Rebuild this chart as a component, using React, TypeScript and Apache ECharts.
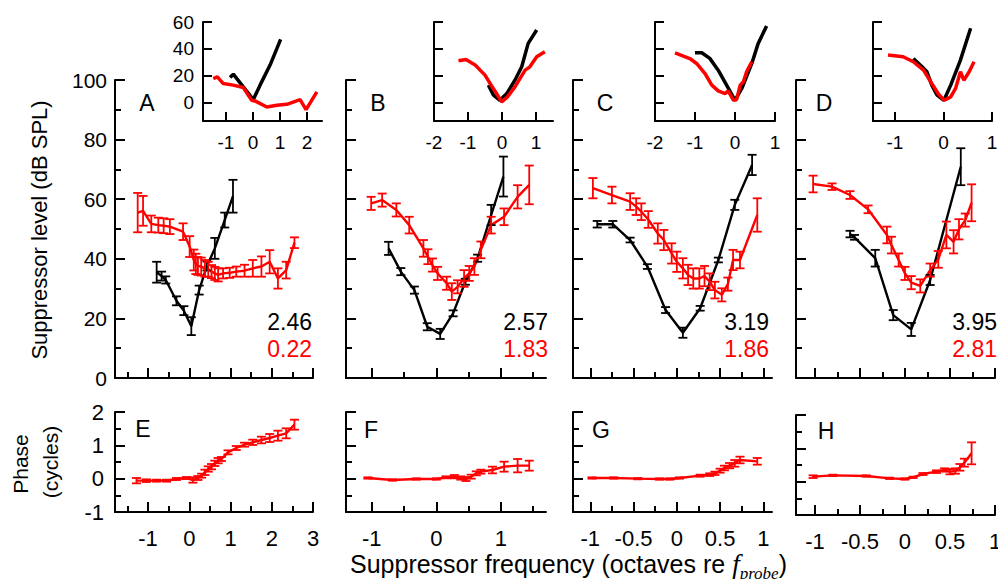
import React, { useEffect, useRef } from 'react';
import * as echarts from 'echarts';

const RED = '#ff0000';
const BLACK = '#000000';
const FONT = '"Liberation Sans", Arial, sans-serif';
const SERIF = '"Liberation Serif", "DejaVu Serif", serif';

// ---- Main panels: [octaves, level dB SPL, error] ----
const A_BLACK = [
  [-0.79, 35.5, 3.5], [-0.67, 34.2, 1.5], [-0.57, 32.9, 1.2], [-0.31, 25.9, 1.5],
  [-0.13, 22.6, 1.5], [0.05, 17.4, 3.0], [0.24, 29.5, 1.5], [0.43, 37.6, 1.5],
  [0.62, 43.5, 3.5], [0.86, 53.0, 2.5], [1.06, 61.0, 5.5],
];
const A_RED = [
  [-1.25, 55.5, 6.6], [-1.12, 56.1, 5.0], [-0.92, 51.7, 2.8], [-0.75, 51.3, 2.5],
  [-0.62, 51.1, 2.5], [-0.47, 50.8, 2.5], [-0.15, 49.1, 2.8], [0.01, 44.1, 3.5],
  [0.11, 39.6, 3.5], [0.16, 38.3, 3.4], [0.21, 37.6, 3.0], [0.29, 37.4, 3.0],
  [0.38, 36.8, 2.8], [0.46, 36.5, 2.5], [0.54, 35.7, 2.2], [0.62, 35.1, 2.2],
  [0.70, 34.6, 2.2], [0.82, 35.1, 1.7], [0.98, 35.3, 1.7], [1.14, 35.7, 1.7],
  [1.34, 36.0, 2.0], [1.54, 36.8, 2.8], [1.75, 37.4, 3.4], [1.95, 39.0, 3.9],
  [2.15, 33.4, 3.4], [2.35, 36.2, 2.8], [2.55, 45.4, 1.8],
];
const B_BLACK = [
  [-0.74, 43.5, 2.2], [-0.55, 35.7, 1.2], [-0.34, 29.5, 1.2], [-0.14, 17.2, 1.2],
  [0.06, 14.8, 1.7], [0.26, 21.7, 1.0], [0.45, 32.3, 1.0], [0.64, 40.2, 1.2],
  [0.85, 54.7, 3.4], [1.04, 67.6, 6.7],
];
const B_RED = [
  [-1.01, 58.6, 2.2], [-0.84, 59.7, 2.2], [-0.62, 56.4, 2.2], [-0.42, 51.3, 2.8],
  [-0.20, 43.5, 2.8], [-0.13, 40.7, 2.5], [-0.06, 37.9, 2.2], [0.02, 35.1, 2.2],
  [0.16, 31.8, 2.2], [0.24, 29.0, 2.8], [0.33, 30.6, 2.2], [0.43, 33.4, 2.8],
  [0.51, 35.1, 2.5], [0.59, 37.4, 2.8], [0.69, 43.0, 2.8], [0.85, 51.3, 2.8],
  [1.05, 54.1, 2.8], [1.26, 60.8, 3.9], [1.44, 64.8, 6.5],
];
const C_BLACK = [
  [-0.92, 51.6, 1.1], [-0.74, 51.6, 1.1], [-0.54, 46.3, 0.8], [-0.34, 37.4, 0.8],
  [-0.13, 22.8, 1.0], [0.07, 15.2, 1.7], [0.27, 23.4, 0.8], [0.48, 39.6, 0.8],
  [0.67, 58.1, 1.7], [0.87, 71.5, 3.4],
];
const C_RED = [
  [-0.97, 63.7, 3.4], [-0.75, 61.4, 2.8], [-0.54, 59.2, 2.8], [-0.47, 57.5, 2.8],
  [-0.41, 55.8, 2.8], [-0.33, 53.2, 2.8], [-0.22, 48.5, 3.4], [-0.15, 46.3, 3.4],
  [-0.06, 41.8, 3.4], [0.0, 39.0, 3.4], [0.07, 36.8, 3.4], [0.13, 34.6, 3.4],
  [0.19, 33.4, 3.4], [0.26, 33.4, 3.4], [0.32, 34.2, 3.4], [0.38, 32.3, 2.8],
  [0.44, 29.5, 2.8], [0.52, 27.9, 2.2], [0.59, 31.5, 2.2], [0.65, 39.6, 3.4],
  [0.73, 39.6, 2.8], [0.93, 54.7, 5.6],
];
const D_BLACK = [
  [-0.61, 48.3, 1.1], [-0.56, 47.2, 0.8], [-0.33, 40.2, 2.8], [-0.13, 21.1, 1.7],
  [0.07, 16.3, 2.2], [0.28, 32.9, 1.7], [0.62, 70.9, 6.2],
];
const D_RED = [
  [-1.02, 65.1, 2.8], [-0.81, 64.2, 1.1], [-0.61, 61.4, 1.3], [-0.41, 56.6, 1.3],
  [-0.20, 48.0, 2.8], [-0.15, 44.6, 2.8], [-0.07, 39.6, 2.2], [0.0, 35.1, 2.2],
  [0.07, 32.0, 2.2], [0.17, 30.9, 2.2], [0.28, 36.2, 2.2], [0.37, 39.8, 2.8],
  [0.46, 48.0, 4.5], [0.54, 45.7, 3.9], [0.60, 49.9, 3.4], [0.67, 53.0, 2.2],
  [0.74, 58.8, 6.2],
];

// ---- Insets: [octaves, level] ----
const IA_BLACK = [[-0.85, 18.5], [-0.73, 21], [-0.36, 11.5], [0.01, 2.0], [0.26, 12.8], [0.63, 27.8], [1.02, 47]];
const IA_RED = [[-1.47, 17.7], [-1.32, 19.0], [-1.10, 14.0], [-0.73, 12.8], [-0.36, 11.0], [-0.05, 1.5], [0.07, 1.0],
  [0.51, -3.5], [0.88, -2.3], [1.25, -1.5], [1.74, 2.0], [1.96, -5.5], [2.36, 7.8]];
const IB_BLACK = [[-0.40, 12.8], [-0.25, 5.3], [-0.06, 1.5], [0.14, 6.5], [0.38, 16.5], [0.58, 26.5], [0.77, 44], [1.02, 54]];
const IB_RED = [[-1.28, 31], [-1.06, 32], [-0.79, 27.8], [-0.50, 20.3], [-0.30, 12], [-0.16, 6.5], [-0.01, 0.3],
  [0.16, 4], [0.38, 11.5], [0.68, 24], [0.82, 26.5], [1.02, 34], [1.26, 37.8]];
const IC_BLACK = [[-1.0, 37], [-0.83, 37], [-0.63, 32.8], [-0.42, 24], [-0.21, 12.8], [0.0, 1.5], [0.17, 10.3],
  [0.42, 29], [0.58, 44], [0.79, 57]];
const IC_RED = [[-1.5, 37], [-1.13, 32.7], [-0.96, 29], [-0.75, 21.5], [-0.58, 12.8], [-0.42, 8.5], [-0.25, 6.5],
  [-0.17, 8.5], [-0.04, 1.5], [0.04, 2], [0.13, 12.8], [0.21, 15.3], [0.29, 22.8], [0.42, 30.3]];
const ID_BLACK = [[-0.62, 32.8], [-0.44, 26.5], [-0.34, 22.8], [-0.24, 12.8], [-0.13, 5.3], [0.01, 1.5], [0.15, 12.8],
  [0.35, 31.5], [0.56, 55.3]];
const ID_RED = [[-1.14, 35.3], [-0.83, 34], [-0.62, 30.3], [-0.41, 24], [-0.24, 14], [-0.10, 6], [0.02, 1.5],
  [0.15, 4], [0.25, 10.3], [0.35, 22.8], [0.42, 16.5], [0.53, 22.8], [0.63, 30.3]];

// ---- Phase panels: [octaves, cycles, error] ----
const E_RED = [
  [-1.28, -0.06, 0.08], [-1.04, -0.06, 0.04], [-0.79, -0.06, 0.03], [-0.55, -0.06, 0.03],
  [-0.31, -0.01, 0.03], [-0.07, 0.02, 0.03], [0.09, -0.04, 0.08], [0.21, 0.02, 0.06],
  [0.30, 0.09, 0.06], [0.38, 0.19, 0.08], [0.46, 0.29, 0.08], [0.54, 0.36, 0.08],
  [0.62, 0.46, 0.08], [0.70, 0.54, 0.08], [0.78, 0.59, 0.06], [0.94, 0.79, 0.06],
  [1.14, 0.92, 0.06], [1.34, 1.02, 0.06], [1.54, 1.09, 0.08], [1.75, 1.16, 0.1],
  [1.95, 1.22, 0.12], [2.15, 1.29, 0.15], [2.35, 1.36, 0.15], [2.55, 1.62, 0.15],
];
const F_RED = [
  [-1.06, 0.02, 0.02], [-0.68, -0.04, 0.02], [-0.31, -0.01, 0.02], [0.0, -0.01, 0.02],
  [0.15, 0.04, 0.03], [0.28, 0.06, 0.05], [0.38, 0.02, 0.05], [0.46, -0.01, 0.06],
  [0.54, 0.06, 0.06], [0.62, 0.16, 0.06], [0.69, 0.21, 0.06], [0.87, 0.26, 0.1],
  [1.05, 0.36, 0.15], [1.26, 0.39, 0.2], [1.44, 0.39, 0.15],
];
const G_RED = [
  [-0.98, 0.02, 0.02], [-0.73, 0.02, 0.02], [-0.45, 0.0, 0.02], [-0.2, -0.01, 0.02],
  [-0.08, -0.01, 0.02], [0.03, 0.02, 0.02], [0.27, 0.09, 0.03], [0.38, 0.12, 0.04],
  [0.44, 0.16, 0.05], [0.50, 0.24, 0.06], [0.55, 0.32, 0.07], [0.61, 0.39, 0.08],
  [0.67, 0.46, 0.1], [0.73, 0.56, 0.1], [0.93, 0.52, 0.1],
];
const H_RED = [
  [-1.02, 0.15, 0.04], [-0.80, 0.19, 0.02], [-0.43, 0.17, 0.02], [-0.17, 0.10, 0.02],
  [0.0, 0.08, 0.02], [0.09, 0.13, 0.02], [0.20, 0.23, 0.03], [0.35, 0.30, 0.04],
  [0.44, 0.35, 0.05], [0.50, 0.30, 0.08], [0.56, 0.32, 0.08], [0.61, 0.43, 0.1],
  [0.66, 0.57, 0.12], [0.74, 0.85, 0.33],
];

// ---- Tick values ----
const X_A_MAJOR = [-1, 0, 1, 2, 3];
const X_A_MINOR = [-1.5, -0.5, 0.5, 1.5, 2.5];
const X_B_MAJOR = [-1, 0, 1];
const X_B_MINOR = [-0.5, 0.5, 1.5];
const X_CD_MAJOR = [-1, -0.5, 0, 0.5, 1];
const X_CD_MINOR = [-0.75, -0.25, 0.25, 0.75];
const Y_MAIN_MAJOR = [0, 20, 40, 60, 80, 100];
const Y_MAIN_MINOR = [10, 30, 50, 70, 90];
const Y_PHASE_MAJOR = [-1, 0, 1, 2];
const Y_PHASE_MINOR = [-0.5, 0.5, 1.5];
const Y_INSET = [0, 20, 40, 60];
const XI_A = [-1, 0, 1, 2];
const XI_B_LABELS = [-2, -1, 0, 1];
const XI_TICKS = [-1, 0, 1];
const XI_D_LABELS = [-1, 0, 1];

const LETTERS = ['A', 'B', 'C', 'D', 'E', 'F', 'G', 'H'];
const SLOPES_BLACK = ['2.46', '2.57', '3.19', '3.95'];
const SLOPES_RED = ['0.22', '1.83', '1.86', '2.81'];

type Panel = {
  l: number; t: number; w: number; h: number;
  x: [number, number]; y: [number, number];
  xMajor: number[]; xMinor: number[]; xLabels: number[] | null;
  yMajor: number[]; yMinor: number[]; yLabels: number[] | null;
  major: number; minor: number; labelSize: number; xMargin: number; yMargin: number;
  kind: 'main' | 'inset' | 'phase';
  black?: number[][]; red?: number[][];
};

const mainBase = { t: 80, h: 298, y: [0, 100] as [number, number], yMajor: Y_MAIN_MAJOR, yMinor: Y_MAIN_MINOR,
  major: 10, minor: 6, labelSize: 21, xMargin: 10, yMargin: 8, kind: 'main' as const, xLabels: null };
const insetBase = { t: 22, h: 99, y: [-14, 60] as [number, number], yMajor: Y_INSET, yMinor: [],
  major: 9, minor: 0, labelSize: 19, xMargin: 12, yMargin: 9, kind: 'inset' as const, xMinor: [] };
const phaseBase = { t: 412, h: 100, y: [-1, 2] as [number, number], yMajor: Y_PHASE_MAJOR, yMinor: Y_PHASE_MINOR,
  major: 10, minor: 6, labelSize: 22, xMargin: 15, yMargin: 11, kind: 'phase' as const };

const PANELS: Panel[] = [
  { ...mainBase, l: 115, w: 198, x: [-1.8, 3], xMajor: X_A_MAJOR, xMinor: X_A_MINOR, yLabels: Y_MAIN_MAJOR, black: A_BLACK, red: A_RED },
  { ...mainBase, l: 346, w: 200, x: [-1.4, 1.7], xMajor: X_B_MAJOR, xMinor: X_B_MINOR, yLabels: null, black: B_BLACK, red: B_RED },
  { ...mainBase, l: 573, w: 199, x: [-1.2, 1.1], xMajor: X_CD_MAJOR, xMinor: X_CD_MINOR, yLabels: null, black: C_BLACK, red: C_RED },
  { ...mainBase, l: 796, w: 199, x: [-1.21, 1.0], xMajor: X_CD_MAJOR, xMinor: X_CD_MINOR, yLabels: null, black: D_BLACK, red: D_RED },
  { ...insetBase, l: 203, w: 119, x: [-1.85, 2.55], xMajor: XI_A, xLabels: XI_A, yLabels: Y_INSET, black: IA_BLACK, red: IA_RED },
  { ...insetBase, l: 434, w: 119, x: [-2, 1.5], xMajor: XI_TICKS, xLabels: XI_B_LABELS, yLabels: null, black: IB_BLACK, red: IB_RED },
  { ...insetBase, l: 655, w: 120, x: [-2, 1], xMajor: XI_TICKS, xLabels: XI_B_LABELS, yLabels: null, black: IC_BLACK, red: IC_RED },
  { ...insetBase, l: 873, w: 119, x: [-1.45, 1], xMajor: XI_TICKS, xLabels: XI_D_LABELS, yLabels: null, black: ID_BLACK, red: ID_RED },
  { ...phaseBase, l: 115, w: 198, x: [-1.8, 3], xMajor: X_A_MAJOR, xMinor: X_A_MINOR, xLabels: X_A_MAJOR, yLabels: Y_PHASE_MAJOR, red: E_RED },
  { ...phaseBase, l: 346, w: 200, x: [-1.4, 1.7], xMajor: X_B_MAJOR, xMinor: X_B_MINOR, xLabels: X_B_MAJOR, yLabels: null, red: F_RED },
  { ...phaseBase, l: 573, w: 199, x: [-1.2, 1.1], xMajor: X_CD_MAJOR, xMinor: X_CD_MINOR, xLabels: X_CD_MAJOR, yLabels: null, red: G_RED },
  { ...phaseBase, t: 415, l: 796, w: 199, x: [-1.21, 1.0], xMajor: X_CD_MAJOR, xMinor: X_CD_MINOR, xLabels: X_CD_MAJOR, yLabels: null, red: H_RED },
];

function makeAxes(p: Panel, gi: number, dim: 'x' | 'y') {
  const [min, max] = dim === 'x' ? p.x : p.y;
  const major = dim === 'x' ? p.xMajor : p.yMajor;
  const minor = dim === 'x' ? p.xMinor : p.yMinor;
  const labels = dim === 'x' ? p.xLabels : p.yLabels;
  const position = dim === 'x' ? 'bottom' : 'left';
  const lineStyle = { color: BLACK, width: 2 };
  const main = {
    type: 'value', gridIndex: gi, min, max, position,
    axisLine: { show: true, onZero: false, lineStyle },
    axisTick: { show: true, inside: true, length: p.major, lineStyle, customValues: major },
    axisLabel: labels
      ? { show: true, customValues: labels, margin: dim === 'x' ? p.xMargin : p.yMargin, color: BLACK,
          fontSize: p.labelSize, fontFamily: FONT, formatter: (v: number) => String(v) }
      : { show: false },
    splitLine: { show: false },
  };
  const sub = {
    type: 'value', gridIndex: gi, min, max, position,
    axisLine: { show: false, onZero: false },
    axisTick: { show: minor.length > 0, inside: true, length: p.minor, lineStyle, customValues: minor.length ? minor : [min] },
    axisLabel: { show: false },
    splitLine: { show: false },
  };
  return [main, sub];
}

function errorSeries(data: number[][], color: string, gi: number, cap: number) {
  return {
    type: 'custom',
    xAxisIndex: gi * 2,
    yAxisIndex: gi * 2,
    silent: true,
    z: 3,
    data: data.map((d) => [d[0], d[1] - d[2], d[1] + d[2]]),
    encode: { x: 0, y: [1, 2] },
    renderItem: (_params: any, api: any) => {
      const x = api.value(0);
      const lo = api.coord([x, api.value(1)]);
      const hi = api.coord([x, api.value(2)]);
      const style = { stroke: color, lineWidth: 1.8, fill: 'none' };
      return {
        type: 'group',
        children: [
          { type: 'line', shape: { x1: lo[0], y1: lo[1], x2: hi[0], y2: hi[1] }, style },
          { type: 'line', shape: { x1: lo[0] - cap, y1: lo[1], x2: lo[0] + cap, y2: lo[1] }, style },
          { type: 'line', shape: { x1: hi[0] - cap, y1: hi[1], x2: hi[0] + cap, y2: hi[1] }, style },
        ],
      };
    },
  };
}

function lineSeries(data: number[][], color: string, gi: number, width: number) {
  return {
    type: 'line',
    xAxisIndex: gi * 2,
    yAxisIndex: gi * 2,
    data: data.map((d) => [d[0], d[1]]),
    symbol: 'none',
    silent: true,
    z: 2,
    lineStyle: { color, width },
  };
}

function text(x: number, y: number, s: string, size: number, color = BLACK, align = 'center', rotation = 0) {
  return {
    type: 'text', x, y, rotation, silent: true,
    style: {
      text: s, fill: color, fontSize: size, fontFamily: FONT,
      align, verticalAlign: 'middle', textAlign: align, textVerticalAlign: 'middle',
    },
  };
}

export default function App() {
  const ref = useRef<HTMLDivElement>(null);
  useEffect(() => {
    if (!ref.current) return;
    const chart = echarts.init(ref.current, undefined, { renderer: 'svg' });
    const grid: any[] = [];
    const xAxis: any[] = [];
    const yAxis: any[] = [];
    const series: any[] = [];
    PANELS.forEach((p, gi) => {
      grid.push({ left: p.l, top: p.t, width: p.w, height: p.h, containLabel: false, outerBoundsMode: 'none' });
      xAxis.push(...makeAxes(p, gi, 'x'));
      yAxis.push(...makeAxes(p, gi, 'y'));
      const lw = p.kind === 'inset' ? 3.5 : 2.4;
      if (p.black) {
        series.push(lineSeries(p.black, BLACK, gi, lw));
        if (p.kind !== 'inset') series.push(errorSeries(p.black, BLACK, gi, 4.5));
      }
      if (p.red) {
        series.push(lineSeries(p.red, RED, gi, lw));
        if (p.kind !== 'inset') series.push(errorSeries(p.red, RED, gi, 4.5));
      }
    });

    const letterPos = [[147, 103], [378, 103], [605, 103], [824, 103], [143, 429], [371, 430], [601, 430], [826, 431]];
    const numX = [312, 548, 769, 997];
    const graphic: any[] = [];
    LETTERS.forEach((L, i) => graphic.push(text(letterPos[i][0], letterPos[i][1], L, 23)));
    SLOPES_BLACK.forEach((s, i) => graphic.push(text(numX[i], 322, s, 23, BLACK, 'right')));
    SLOPES_RED.forEach((s, i) => graphic.push(text(numX[i], 349, s, 23, RED, 'right')));
    graphic.push(text(39, 230, 'Suppressor level (dB SPL)', 22, BLACK, 'center', Math.PI / 2));
    graphic.push(text(20, 464, 'Phase', 21, BLACK, 'center', Math.PI / 2));
    graphic.push(text(50, 462, '(cycles)', 21, BLACK, 'center', Math.PI / 2));
    graphic.push({
      type: 'text', x: 350, y: 564, silent: true,
      style: {
        text: 'Suppressor frequency (octaves re {f|f}{s|probe})',
        fill: BLACK, fontSize: 25, fontFamily: FONT,
        align: 'left', verticalAlign: 'middle', textAlign: 'left', textVerticalAlign: 'middle',
        rich: {
          f: { fontSize: 27, fontStyle: 'italic', fontFamily: SERIF, fill: BLACK },
          s: { fontSize: 17, fontStyle: 'italic', fontFamily: SERIF, fill: BLACK, lineHeight: 17, padding: [18, 0, 0, 0] },
        },
      },
    });

    chart.setOption({
      animation: false,
      backgroundColor: '#ffffff',
      grid, xAxis, yAxis, series, graphic,
    });
    return () => chart.dispose();
  }, []);
  return <div ref={ref} style={{ position: 'fixed', left: 0, top: 0, width: 998, height: 579 }} />;
}
